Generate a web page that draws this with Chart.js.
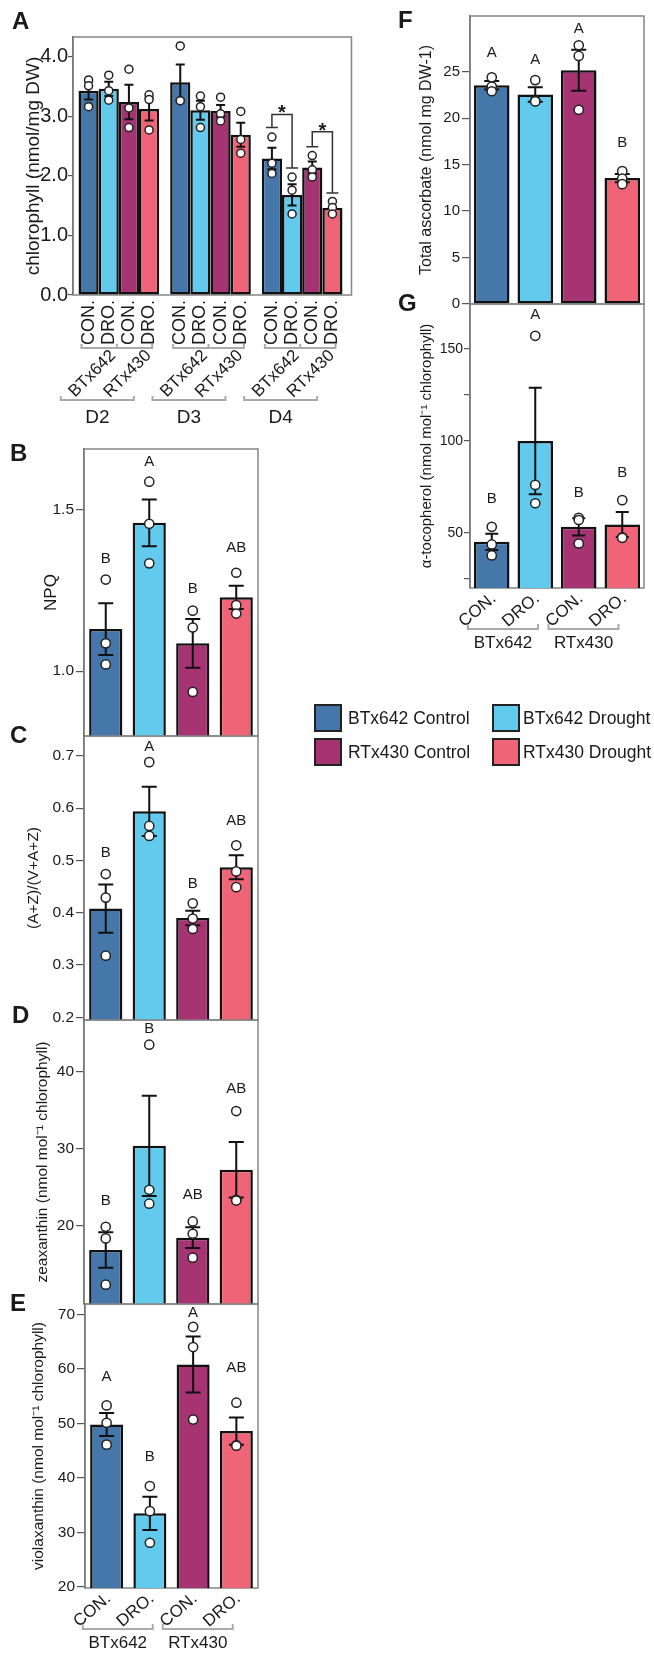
<!DOCTYPE html>
<html>
<head>
<meta charset="utf-8">
<script src="https://cdn.jsdelivr.net/npm/chart.js@4.4.0/dist/chart.umd.min.js"></script>
<style>
  body { margin: 0; background: #fff; }
  #fig { position: relative; width: 654px; height: 1654px; overflow: hidden; font-family: 'Liberation Sans', Arial, sans-serif; color: #1a1a1a; }
  #fig canvas { position: absolute; left: 0; top: 0; }
  .panel { position: absolute; font-weight: bold; font-size: 24px; line-height: 1; }
  .sw { position: absolute; width: 28px; height: 28px; box-sizing: border-box; border: 2px solid #222; }
  .lg { position: absolute; font-size: 17.5px; line-height: 28px; white-space: nowrap; }
</style>
</head>
<body>
<div id="fig"></div>
<script>
const FONT = "'Liberation Sans', Arial, sans-serif";
const colors = ['#4677aa', '#62caec', '#a63372', '#ef6577'];
const condLabels = ['CON.', 'DRO.', 'CON.', 'DRO.'];
const genotypes = ['BTx642', 'RTx430'];
const legendNames = ['BTx642 Control', 'BTx642 Drought', 'RTx430 Control', 'RTx430 Drought'];

// A - chlorophyll, rows = BC, BD, RC, RD ; columns = days
const days = ['D2', 'D3', 'D4'];
const chlMean = [[3.43, 3.57, 2.29], [3.46, 3.10, 1.68], [3.24, 3.09, 2.14], [3.12, 2.69, 1.46]];
const chlErr = [[0.15, 0.30, 0.18], [0.12, 0.16, 0.18], [0.29, 0.10, 0.10], [0.19, 0.20, 0.10]];
const chlPts = [
  [[3.61, 3.51, 3.16], [4.18, 3.26, 3.26], [2.65, 2.21, 2.04]],
  [[3.69, 3.43, 3.27], [3.34, 3.16, 2.81], [1.98, 1.76, 1.36]],
  [[3.79, 3.14, 2.81], [3.32, 3.04, 2.92], [2.34, 2.10, 1.98]],
  [[3.36, 3.28, 2.77], [3.08, 2.61, 2.38], [1.57, 1.47, 1.36]]
];
const chlSig = [
  {day: 2, a: 0, b: 1, yA: 2.81, yB: 2.13, yTop: 3.03},
  {day: 2, a: 2, b: 3, yA: 2.49, yB: 1.71, yTop: 2.74}
];

// B - NPQ
const npqMean = [1.13, 1.458, 1.086, 1.228];
const npqErr = [0.08, 0.072, 0.075, 0.036];
const npqPts = [[1.283, 1.086, 1.021], [1.585, 1.455, 1.333], [1.187, 1.135, 0.936], [1.304, 1.204, 1.178]];
const npqLetters = ['B', 'A', 'B', 'AB'];
const npqLetterY = [1.348, 1.647, 1.253, 1.382];

// C - (A+Z)/(V+A+Z)
const azMean = [0.408, 0.594, 0.390, 0.487];
const azErr = [0.046, 0.047, 0.014, 0.023];
const azPts = [[0.474, 0.429, 0.318], [0.688, 0.566, 0.547], [0.418, 0.389, 0.369], [0.529, 0.479, 0.449]];
const azLetters = ['B', 'A', 'B', 'AB'];
const azLetterY = [0.515, 0.717, 0.455, 0.575];

// D - zeaxanthin
const zeaMean = [16.9, 30.4, 18.5, 27.3];
const zeaErr = [2.3, 6.5, 1.35, 3.6];
const zeaPts = [[19.9, 18.4, 12.4], [43.5, 24.7, 22.9], [20.6, 19.0, 15.9], [34.9, 23.4, 23.3]];
const zeaLetters = ['B', 'B', 'AB', 'AB'];
const zeaLetterY = [23.3, 45.6, 24.0, 37.8];

// E - violaxanthin
const vioMean = [49.8, 33.5, 60.8, 48.6];
const vioErr = [2.1, 3.05, 5.15, 2.5];
const vioPts = [[53.3, 50.1, 46.1], [38.5, 33.9, 28.1], [67.7, 64.0, 50.7], [53.8, 46.0, 45.9]];
const vioLetters = ['A', 'B', 'A', 'AB'];
const vioLetterY = [58.6, 43.8, 70.2, 60.1];

// F - total ascorbate
const ascMean = [23.55, 22.55, 25.16, 13.55];
const ascErr = [0.45, 0.77, 2.2, 0.45];
const ascPts = [[24.4, 23.4, 22.9], [24.1, 21.9, 21.8], [27.85, 26.7, 20.9], [14.3, 13.5, 12.9]];
const ascLetters = ['A', 'A', 'A', 'B'];
const ascLetterY = [27.0, 26.3, 29.6, 17.3];

// G - alpha-tocopherol
const tocMean = [45.1, 100, 53.3, 54.5];
const tocErr = [4.4, 29, 4.7, 6.8];
const tocPts = [[53.3, 43.7, 37.7], [157.2, 76.1, 66.1], [58.2, 57.0, 44.2], [67.8, 47.6, 47.3]];
const tocLetters = ['B', 'A', 'B', 'B'];
const tocLetterY = [68.5, 168.7, 71.7, 82.6];

const fig = document.getElementById('fig');

function label(ctx, text, x, y, size, align, base, rot, weight) {
  ctx.save();
  ctx.translate(x, y);
  if (rot) ctx.rotate(rot);
  ctx.font = (weight || '') + ' ' + size + 'px ' + FONT;
  ctx.fillStyle = '#1a1a1a';
  ctx.textAlign = align;
  ctx.textBaseline = base;
  ctx.fillText(text, 0, 0);
  ctx.restore();
}

function errBar(ctx, x, ys, mean, err, cap) {
  const yt = ys.getPixelForValue(mean + err), yb = ys.getPixelForValue(mean - err);
  ctx.beginPath();
  ctx.moveTo(x, yt); ctx.lineTo(x, yb);
  ctx.moveTo(x - cap / 2, yt); ctx.lineTo(x + cap / 2, yt);
  ctx.moveTo(x - cap / 2, yb); ctx.lineTo(x + cap / 2, yb);
  ctx.stroke();
}

function dot(ctx, x, y, r) {
  ctx.beginPath();
  ctx.arc(x, y, r, 0, Math.PI * 2);
  ctx.fillStyle = '#fff';
  ctx.fill();
  ctx.lineWidth = 1.5;
  ctx.strokeStyle = '#222';
  ctx.stroke();
}

function makeChart(p) {
  const cv = document.createElement('canvas');
  cv.width = 654; cv.height = 1654;
  fig.appendChild(cv);
  const padLeft = p.titleX - p.titleSize * 1.2 / 2;
  return new Chart(cv, {
    type: 'bar',
    data: {labels: p.labels, datasets: p.datasets},
    options: {
      responsive: false,
      animation: false,
      events: [],
      layout: {padding: {left: padLeft, top: p.box.t, right: 654 - p.box.r, bottom: 1654 - p.box.b}},
      plugins: {legend: {display: false}, tooltip: {enabled: false}},
      scales: {
        x: {display: false},
        y: {
          min: p.yMin, max: p.yMax,
          afterFit: s => { s.width = p.box.l - padLeft; },
          afterBuildTicks: s => { s.ticks = p.ticks.map(v => ({value: v})); },
          ticks: {
            callback: v => p.shown.includes(v) ? v.toFixed(p.dec) : '',
            font: {family: FONT, size: p.tickSize}, color: '#1a1a1a', padding: p.tickPad
          },
          grid: {drawOnChartArea: false, drawTicks: true, tickLength: p.tickLen, color: '#555', lineWidth: 1.2},
          border: {display: true, color: '#555', width: 1.5},
          title: {display: true, text: p.title, font: {family: FONT, size: p.titleSize}, color: '#1a1a1a', padding: 0}
        }
      }
    },
    plugins: [{
      id: 'deco',
      beforeDatasetsDraw(c) {
        const a = c.chartArea, ctx = c.ctx;
        ctx.save();
        ctx.strokeStyle = '#858585';
        ctx.lineWidth = 1.5;
        ctx.strokeRect(a.left, a.top, a.right - a.left + (p.extraR || 0), a.bottom - a.top);
        ctx.restore();
      },
      afterDatasetsDraw(c) { c.ctx.save(); p.draw(c); c.ctx.restore(); }
    }]
  });
}

function barSet(values, pct) {
  return [{data: values, backgroundColor: colors, borderColor: '#111', borderWidth: 2.5,
           borderSkipped: false, categoryPercentage: pct, barPercentage: 1}];
}

function drawMarks(c, mean, err, pts, letters, letterY, cap, r) {
  const ctx = c.ctx, ys = c.scales.y;
  const bars = c.getDatasetMeta(0).data;
  ctx.strokeStyle = '#111'; ctx.lineWidth = 2;
  bars.forEach((b, i) => errBar(ctx, b.x, ys, mean[i], err[i], cap));
  bars.forEach((b, i) => pts[i].forEach(v => dot(ctx, b.x, ys.getPixelForValue(v), r)));
  bars.forEach((b, i) => label(ctx, letters[i], b.x, ys.getPixelForValue(letterY[i]), 15, 'center', 'middle'));
}

const bracketShift = [-10.5, -17];
function drawCondAxis(c) {
  const ctx = c.ctx, bars = c.getDatasetMeta(0).data, ay = c.chartArea.bottom;
  bars.forEach((b, i) => label(ctx, condLabels[i], b.x + 5, ay + 12, 17, 'right', 'alphabetic', -0.70));
  [0, 1].forEach(g => {
    const pc = (bars[2 * g].x + bars[2 * g + 1].x) / 2 + bracketShift[g];
    const x0 = pc - 35, x1 = pc + 35, yb = ay + 41;
    ctx.strokeStyle = '#aaa'; ctx.lineWidth = 2;
    ctx.beginPath();
    ctx.moveTo(x0, yb - 5); ctx.lineTo(x0, yb); ctx.lineTo(x1, yb); ctx.lineTo(x1, yb - 5);
    ctx.stroke();
    label(ctx, genotypes[g], pc, yb + 14, 17, 'center', 'middle');
  });
}

function drawA(c) {
  const ctx = c.ctx, ys = c.scales.y, ay = c.chartArea.bottom;
  const metas = [0, 1, 2, 3].map(k => c.getDatasetMeta(k).data);
  ctx.strokeStyle = '#111'; ctx.lineWidth = 2;
  metas.forEach((m, k) => m.forEach((b, g) => errBar(ctx, b.x, ys, chlMean[k][g], chlErr[k][g], 9)));
  metas.forEach((m, k) => m.forEach((b, g) => chlPts[k][g].forEach(v => dot(ctx, b.x, ys.getPixelForValue(v), 4))));

  chlSig.forEach(s => {
    const xa = metas[s.a][s.day].x, xb = metas[s.b][s.day].x;
    const yA = ys.getPixelForValue(s.yA), yB = ys.getPixelForValue(s.yB), yT = ys.getPixelForValue(s.yTop);
    ctx.strokeStyle = '#333'; ctx.lineWidth = 1.5;
    ctx.beginPath();
    ctx.moveTo(xa, yA); ctx.lineTo(xa, yT); ctx.lineTo(xb, yT); ctx.lineTo(xb, yB);
    ctx.moveTo(xa - 6, yA); ctx.lineTo(xa + 6, yA);
    ctx.moveTo(xb - 6, yB); ctx.lineTo(xb + 6, yB);
    ctx.stroke();
    label(ctx, '*', (xa + xb) / 2, yT + 5, 20, 'center', 'alphabetic', 0, 'bold');
  });

  days.forEach((d, g) => {
    const b = metas.map(m => m[g]);
    b.forEach((el, k) => label(ctx, condLabels[k], el.x, ay + 5, 18, 'right', 'middle', -Math.PI / 2));
    const left = b[0].x - b[0].width / 2 + 3, mid = (b[1].x + b[2].x) / 2 - 2, right = b[3].x + b[3].width / 2 - 7;
    const yb = ay + 53;
    ctx.strokeStyle = '#aaa'; ctx.lineWidth = 2;
    ctx.beginPath();
    ctx.moveTo(left, yb - 4); ctx.lineTo(left, yb); ctx.lineTo(right, yb); ctx.lineTo(right, yb - 4);
    ctx.moveTo(mid, yb - 4); ctx.lineTo(mid, yb);
    ctx.stroke();
    label(ctx, genotypes[0], (left + mid) / 2 + 14, ay + 58, 17, 'right', 'middle', -Math.PI / 4);
    label(ctx, genotypes[1], (mid + right) / 2 + 14, ay + 58, 17, 'right', 'middle', -Math.PI / 4);
    const gc = (b[0].x + b[3].x) / 2;
    const gl = gc - 58, gr = gc + 15, gy = ay + 105;
    ctx.strokeStyle = '#aaa'; ctx.lineWidth = 2;
    ctx.beginPath();
    ctx.moveTo(gl, gy - 4); ctx.lineTo(gl, gy); ctx.lineTo(gr, gy); ctx.lineTo(gr, gy - 4);
    ctx.stroke();
    label(ctx, d, (gl + gr) / 2, ay + 123, 19, 'center', 'middle');
  });
}

// Panel A
makeChart({
  box: {l: 73, t: 37, r: 348, b: 295}, extraR: 3.5,
  labels: days,
  datasets: chlMean.map((vals, k) => ({data: vals, backgroundColor: colors[k], borderColor: '#111', borderWidth: 2.5,
    borderSkipped: false, categoryPercentage: 0.88, barPercentage: 1})),
  yMin: 0, yMax: 4.33, ticks: [0, 1, 2, 3, 4], shown: [0, 1, 2, 3, 4], dec: 1,
  tickSize: 20, tickLen: 5, tickPad: 0,
  title: 'chlorophyll (nmol/mg DW)', titleSize: 19, titleX: 34,
  draw: drawA
});

// Panel B
makeChart({
  box: {l: 84, t: 449, r: 258, b: 736},
  labels: legendNames, datasets: barSet(npqMean, 0.763),
  yMin: 0.8, yMax: 1.686, ticks: [1.0, 1.5], shown: [1.0, 1.5], dec: 1,
  tickSize: 15.5, tickLen: 8, tickPad: 2,
  title: 'NPQ', titleSize: 17, titleX: 51.5,
  draw: c => drawMarks(c, npqMean, npqErr, npqPts, npqLetters, npqLetterY, 15, 4.6)
});

// Panel C
const azTicks = [0.2, 0.3, 0.4, 0.5, 0.6, 0.7];
makeChart({
  box: {l: 84, t: 736, r: 258, b: 1020},
  labels: legendNames, datasets: barSet(azMean, 0.763),
  yMin: 0.195, yMax: 0.738, ticks: azTicks, shown: azTicks, dec: 1,
  tickSize: 15.5, tickLen: 8, tickPad: 2,
  title: '(A+Z)/(V+A+Z)', titleSize: 15.5, titleX: 34,
  draw: c => drawMarks(c, azMean, azErr, azPts, azLetters, azLetterY, 15, 4.6)
});

// Panel D
makeChart({
  box: {l: 84, t: 1020, r: 258, b: 1304},
  labels: legendNames, datasets: barSet(zeaMean, 0.763),
  yMin: 9.9, yMax: 46.7, ticks: [20, 30, 40], shown: [20, 30, 40], dec: 0,
  tickSize: 15.5, tickLen: 8, tickPad: 2,
  title: 'zeaxanthin (nmol mol\u207B\u00B9 chlorophyll)', titleSize: 15.5, titleX: 42.5,
  draw: c => drawMarks(c, zeaMean, zeaErr, zeaPts, zeaLetters, zeaLetterY, 15, 4.6)
});

// Panel E
const vioTicks = [20, 30, 40, 50, 60, 70];
makeChart({
  box: {l: 85, t: 1304, r: 258, b: 1588},
  labels: legendNames, datasets: barSet(vioMean, 0.763),
  yMin: 19.8, yMax: 71.9, ticks: vioTicks, shown: vioTicks, dec: 0,
  tickSize: 15.5, tickLen: 8, tickPad: 2,
  title: 'violaxanthin (nmol mol\u207B\u00B9 chlorophyll)', titleSize: 15.5, titleX: 39,
  draw: c => { drawMarks(c, vioMean, vioErr, vioPts, vioLetters, vioLetterY, 15, 4.6); drawCondAxis(c); }
});

// Panel F
const ascTicks = [0, 5, 10, 15, 20, 25];
makeChart({
  box: {l: 470, t: 16, r: 644, b: 304},
  labels: legendNames, datasets: barSet(ascMean, 0.816),
  yMin: 0, yMax: 31, ticks: ascTicks, shown: ascTicks, dec: 0,
  tickSize: 15, tickLen: 8, tickPad: 2,
  title: 'Total ascorbate (nmol mg DW-1)', titleSize: 16, titleX: 427,
  draw: c => drawMarks(c, ascMean, ascErr, ascPts, ascLetters, ascLetterY, 15, 4.6)
});

// Panel G
makeChart({
  box: {l: 470, t: 304, r: 644, b: 588},
  labels: legendNames, datasets: barSet(tocMean, 0.816),
  yMin: 20, yMax: 174.5, ticks: [25, 50, 100, 125, 150], shown: [50, 100, 150], dec: 0,
  tickSize: 14, tickLen: 6, tickPad: 1,
  title: '\u03B1-tocopherol (nmol mol\u207B\u00B9 chlorophyll)', titleSize: 15, titleX: 427,
  draw: c => { drawMarks(c, tocMean, tocErr, tocPts, tocLetters, tocLetterY, 13, 4.6); drawCondAxis(c); }
});

// panel letters
[['A', 12, 9], ['B', 10, 441], ['C', 10, 723], ['D', 12, 1003], ['E', 10, 1291], ['F', 398, 8], ['G', 398, 291]]
  .forEach(([t, x, y]) => {
    const d = document.createElement('div');
    d.className = 'panel'; d.textContent = t;
    d.style.left = x + 'px'; d.style.top = y + 'px';
    fig.appendChild(d);
  });

// legend
legendNames.forEach((name, k) => {
  const col = k % 2, row = Math.floor(k / 2);
  const sw = document.createElement('div');
  sw.className = 'sw';
  sw.style.background = colors[k];
  sw.style.left = (314 + col * 178) + 'px';
  sw.style.top = (704 + row * 34) + 'px';
  fig.appendChild(sw);
  const t = document.createElement('div');
  t.className = 'lg'; t.textContent = name;
  t.style.left = (348 + col * 175) + 'px';
  t.style.top = (704 + row * 34) + 'px';
  fig.appendChild(t);
});
</script>
</body>
</html>
